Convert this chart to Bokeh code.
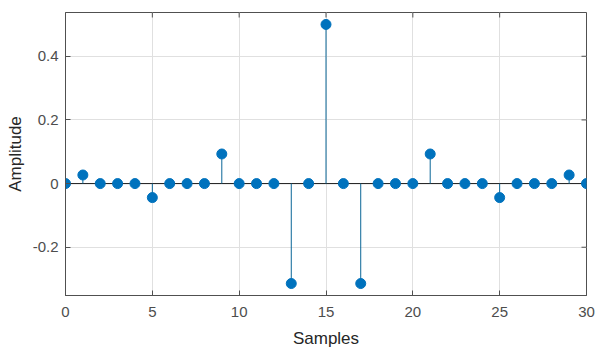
from bokeh.plotting import figure
from bokeh.models import Range1d, FixedTicker, CustomJSTickFormatter, ColumnDataSource
from bokeh.embed import file_html
from bokeh.resources import INLINE

samples = list(range(31))
amplitude = [0, 0.027, 0, 0, 0, -0.044, 0, 0, 0, 0.093, 0, 0, 0, -0.314, 0, 0.5,
             0, -0.314, 0, 0, 0, 0.093, 0, 0, 0, -0.044, 0, 0, 0, 0.027, 0]
x_ticks = [0, 5, 10, 15, 20, 25, 30]
y_ticks = [-0.2, 0, 0.2, 0.4]

X_MIN, X_MAX = 0, 30
Y_MIN, Y_MAX = -0.3516, 0.5375
W, H = 607, 354
ML, MR, MT, MB = 65, 21, 12, 59
TICK = 5

src = ColumnDataSource(dict(x=samples, y=amplitude, base=[0] * len(samples)))

FONT = "Liberation Sans"
TICK_COLOR = "#4d4d4d"
LABEL_COLOR = "#262626"
FRAME_COLOR = "#505050"

p = figure(width=W, height=H, output_backend="svg", toolbar_location=None,
           x_range=Range1d(X_MIN, X_MAX), y_range=Range1d(Y_MIN, Y_MAX),
           min_border_left=ML, min_border_right=MR, min_border_top=MT, min_border_bottom=MB,
           x_axis_label="Samples", y_axis_label="Amplitude")

p.outline_line_color = FRAME_COLOR
p.outline_line_width = 1
p.background_fill_color = "white"
p.border_fill_color = "white"

p.xgrid.ticker = FixedTicker(ticks=x_ticks)
p.ygrid.ticker = FixedTicker(ticks=y_ticks)
for g in (p.xgrid, p.ygrid):
    g.grid_line_color = "#e0e0e0"
    g.grid_line_width = 1

fmt = CustomJSTickFormatter(code="return Math.abs(tick) < 1e-9 ? '0' : (Number.isInteger(tick) ? tick.toString() : tick.toFixed(1));")

for ax in (p.xaxis[0], p.yaxis[0]):
    ax.major_tick_in = TICK
    ax.major_tick_out = 0
    ax.minor_tick_in = 0
    ax.minor_tick_out = 0
    ax.axis_line_color = FRAME_COLOR
    ax.major_tick_line_color = FRAME_COLOR
    ax.major_label_text_font = FONT
    ax.major_label_text_font_size = "15px"
    ax.major_label_text_color = TICK_COLOR
    ax.axis_label_text_font = FONT
    ax.axis_label_text_font_size = "17px"
    ax.axis_label_text_font_style = "normal"
    ax.axis_label_text_color = LABEL_COLOR
    ax.formatter = fmt

p.xaxis[0].ticker = FixedTicker(ticks=x_ticks)
p.yaxis[0].ticker = FixedTicker(ticks=y_ticks)
p.xaxis[0].major_label_standoff = 11
p.yaxis[0].major_label_standoff = 7
p.xaxis[0].axis_label_standoff = 9
p.yaxis[0].axis_label_standoff = 5

# inward ticks on the top and right edges of the box (derived from tick lists)
fw = W - ML - MR
fh = H - MT - MB
dy = TICK * (Y_MAX - Y_MIN) / fh
dx = TICK * (X_MAX - X_MIN) / fw
p.segment(x0=x_ticks, y0=[Y_MAX] * len(x_ticks), x1=x_ticks, y1=[Y_MAX - dy] * len(x_ticks),
          line_color=FRAME_COLOR, line_width=1)
p.segment(x0=[X_MAX] * len(y_ticks), y0=y_ticks, x1=[X_MAX - dx] * len(y_ticks), y1=y_ticks,
          line_color=FRAME_COLOR, line_width=1)

# baseline
p.line(x=[X_MIN, X_MAX], y=[0, 0], line_color="#1a1a1a", line_width=1)
# stems
p.segment(x0="x", y0="base", x1="x", y1="y", source=src, line_color="#0a6697", line_width=1)
# markers
p.scatter(x="x", y="y", source=src, size=10, fill_color="#0072BD", line_color="#0072BD")

open("out.html", "w").write(file_html(p, INLINE))
